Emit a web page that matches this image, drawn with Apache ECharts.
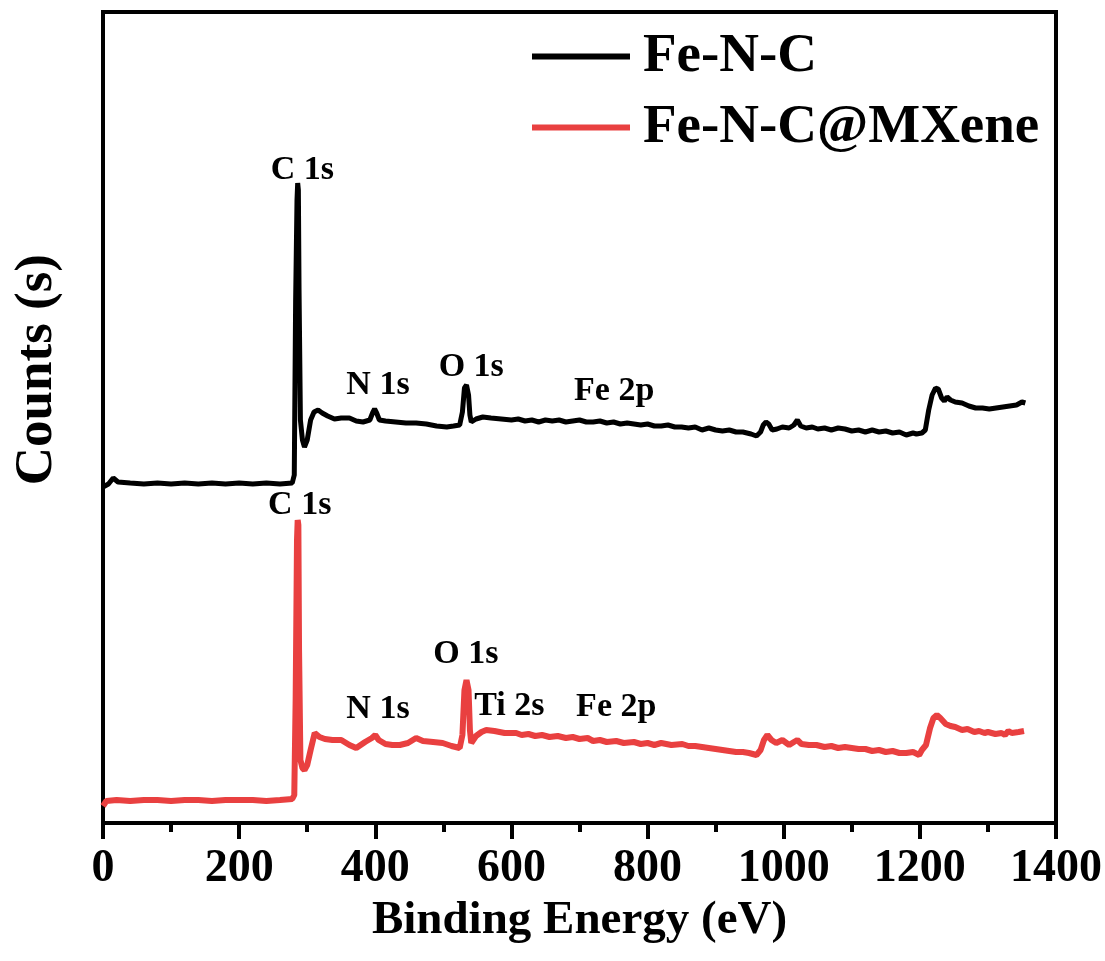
<!DOCTYPE html>
<html>
<head>
<meta charset="utf-8">
<script src="https://cdn.jsdelivr.net/npm/echarts@6/dist/echarts.min.js"></script>
<style>html,body{margin:0;padding:0;background:#fff;}#c{width:1105px;height:961px;}</style>
</head>
<body>
<div id="c"></div>
<script>
// Binding energy (eV) / counts (arbitrary units)
const feNC = [
[0,336],[8,339],[15,345],[22,341],[40,340],[60,339],[80,340],[100,339],[120,340],[140,339],[160,340],[180,339],[200,340],[220,339],[240,340],[260,339],[278,340],
[281,348],[283,523],[285,623],[286,640],[287,633],[288,533],[290,403],[293,383],[296,376],[300,383],[305,403],[310,411],[316,413],[322,410],[330,407],[340,404],[350,405],[362,405],[372,402],[382,401],[392,403],[396,410],[399,414],[402,410],[406,403],[415,402],[430,401],[445,400],[460,400],[475,399],[490,397],[505,396],[515,397],[524,398],
[528,411],[531,435],[534,438],[537,428],[539,408],[541,401],[548,404],[558,406],[570,405],[585,404],
[600,403],[610,404],[620,402],[630,403],[640,401],[650,403],[660,402],[670,403],[680,401],[690,402],[700,403],[710,401],[720,401],[730,402],[740,400],[750,401],[760,399],[770,400],[780,399],[790,398],[800,399],[810,397],[820,397],[830,398],[840,396],[850,396],[860,395],[870,396],[880,393],[890,395],[900,393],[910,392],[920,393],[930,391],[940,391],[952,389],[960,387],
[966,391],[970,398],[974,401],[978,399],[983,393],[990,394],[998,396],[1008,395],[1015,398],[1020,403],[1025,397],
[1033,395],[1042,396],[1050,394],[1060,395],[1070,393],[1080,395],[1090,394],[1100,392],[1110,393],[1120,391],[1130,393],[1140,391],[1150,392],[1160,390],[1170,391],[1180,388],[1190,390],[1195,389],[1203,390],
[1208,393],[1213,413],[1218,428],[1223,435],[1227,434],[1232,425],[1236,422],[1240,426],[1245,423],[1252,421],[1262,420],[1272,417],[1282,415],[1292,415],[1302,414],[1312,415],[1322,416],[1332,417],[1342,418],[1350,421],[1355,420]
];
const feNCMXene = [
[0,17],[5,22],[20,23],[40,22],[60,23],[80,23],[100,22],[120,23],[140,23],[160,22],[180,23],[200,23],[220,23],[240,22],[260,23],[278,24],
[281,28],[283,123],[285,283],[286,303],[287,298],[288,173],[290,63],[293,55],[296,53],[300,58],[305,73],[311,90],[318,86],[326,84],[337,83],[350,83],[362,78],[372,75],[385,81],[395,85],[400,88],[405,83],[415,79],[425,78],[436,78],[448,80],[460,85],[470,82],[485,81],[499,80],[512,77],[524,75],
[528,88],[531,133],[534,143],[537,133],[539,93],[541,80],[548,87],[556,91],[563,93],[575,92],[590,90],
[607,90],[615,88],[625,89],[635,87],[645,88],[656,86],[668,87],[680,85],[690,86],[700,84],[712,85],[720,82],[730,83],[740,81],[754,82],[765,80],[780,81],[790,79],[800,80],[810,78],[820,80],[835,78],[851,79],[860,77],[870,77],[880,76],[890,75],[900,74],[910,73],[920,72],[930,71],[940,71],[949,70],[960,68],
[966,73],[971,83],[976,88],[982,83],[989,80],[998,83],[1008,78],[1015,81],[1020,83],[1026,79],
[1037,78],[1048,78],[1060,76],[1070,77],[1080,75],[1090,76],[1100,75],[1110,74],[1120,74],[1130,72],[1140,73],[1150,71],[1160,72],[1170,70],[1180,70],[1190,71],[1199,68],
[1203,73],[1209,78],[1215,95],[1220,105],[1225,108],[1230,105],[1238,99],[1245,97],[1252,96],[1262,93],[1270,94],[1280,91],[1287,92],[1295,90],[1300,91],[1311,89],[1320,90],[1325,88],[1330,92],[1335,90],[1345,91],[1353,92]
];
// Peak annotations: [energy, height, text]
const peakLabelsFeNC = [[293,653,'C 1s'],[404,438,'N 1s'],[541,456,'O 1s'],[751,432,'Fe 2p']];
const peakLabelsMXene = [[289,318,'C 1s'],[533,169,'O 1s'],[404,114,'N 1s'],[597,117,'Ti 2s'],[754,116,'Fe 2p']];
const seriesNames = ['Fe-N-C','Fe-N-C@MXene'];
const xTicks = [0,200,400,600,800,1000,1200,1400];

const FONT = '"Liberation Serif","Times New Roman",serif';
const chart = echarts.init(document.getElementById('c'), null, {renderer:'canvas'});
const labelSeries = (arr) => ({
  type:'scatter', silent:true, symbolSize:0, z:5,
  itemStyle:{opacity:1},
  data: arr.map(d => ({value:[d[0],d[1]], name:d[2]})),
  label:{show:true, position:'inside', opacity:1, formatter: p => p.name, color:'#000', textBorderWidth:0, fontFamily:FONT, fontWeight:'bold', fontSize:34}
});
chart.setOption({
  animation:false,
  backgroundColor:'#fff',
  grid:{left:103, right:48, top:12, bottom:138, show:true, borderColor:'#000', borderWidth:4},
  legend:{
    data:seriesNames, orient:'vertical', left:532, top:29, padding:0, itemGap:16,
    icon:'rect', itemWidth:98, itemHeight:6,
    textStyle:{fontFamily:FONT, fontWeight:'bold', fontSize:55, color:'#000', lineHeight:55, padding:[0,0,0,8]}
  },
  xAxis:{
    type:'value', min:xTicks[0], max:xTicks[xTicks.length-1], interval:200,
    name:'Binding Energy (eV)', nameLocation:'middle', nameGap:64,
    nameTextStyle:{fontFamily:FONT, fontWeight:'bold', fontSize:47, color:'#000'},
    axisLine:{show:true, lineStyle:{color:'#000', width:4}},
    axisTick:{show:true, inside:false, length:16, lineStyle:{color:'#000', width:4}},
    minorTick:{show:true, splitNumber:2, length:9, lineStyle:{color:'#000', width:4}},
    splitLine:{show:false},
    axisLabel:{margin:23, formatter: v => String(v), fontFamily:FONT, fontWeight:'bold', fontSize:46, color:'#000'}
  },
  yAxis:{
    type:'value', min:0, max:811,
    axisLine:{show:true, lineStyle:{color:'#000', width:4}},
    axisTick:{show:false}, axisLabel:{show:false}, splitLine:{show:false}
  },
  graphic:[{
    type:'text', left:11, top:254, rotation:Math.PI/2,
    style:{text:'Counts (s)', fontFamily:FONT, fontWeight:'bold', fontSize:53, fill:'#000'}
  }],
  series:[
    {name:seriesNames[0], type:'line', data:feNC, showSymbol:false, symbol:'none', lineStyle:{color:'#000', width:5}, itemStyle:{color:'#000'}, z:3},
    {name:seriesNames[1], type:'line', data:feNCMXene, showSymbol:false, symbol:'none', lineStyle:{color:'#E94040', width:6}, itemStyle:{color:'#E94040'}, z:3},
    labelSeries(peakLabelsFeNC),
    labelSeries(peakLabelsMXene)
  ]
});
</script>
</body>
</html>
